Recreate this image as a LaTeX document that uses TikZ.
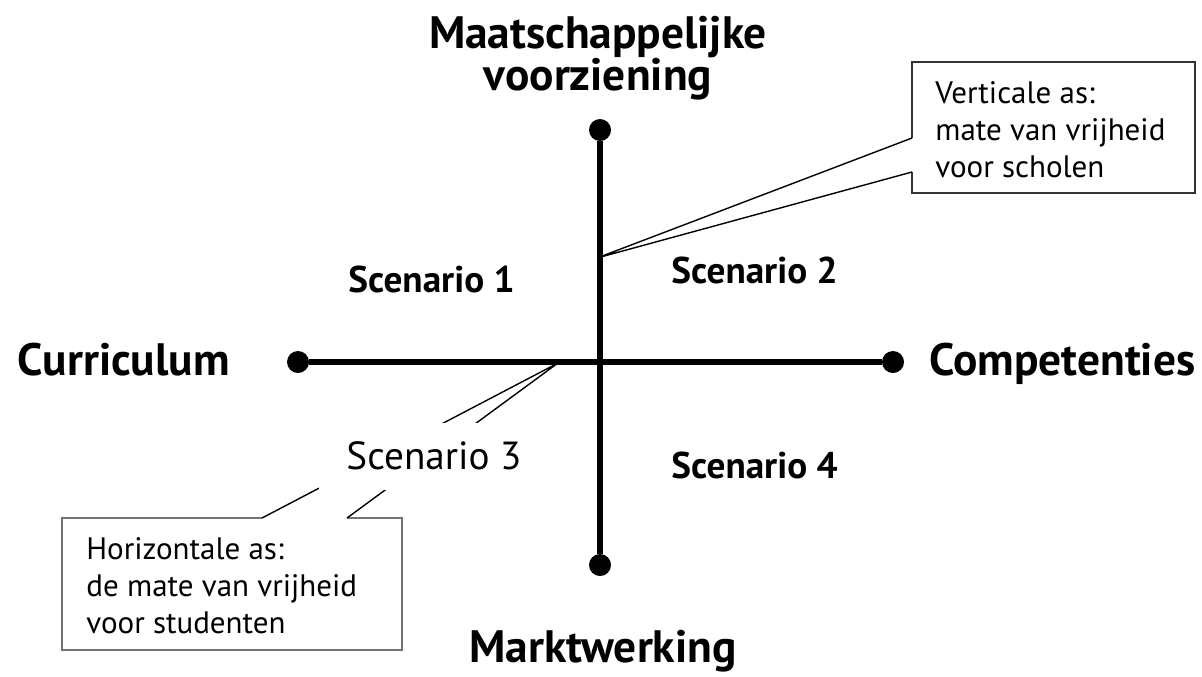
\documentclass[tikz,border=0pt]{standalone}
\usepackage{fontspec}
\setmainfont{PT Sans}

\begin{document}
\begin{tikzpicture}[x=0.5pt,y=-0.5pt,
    axis/.style={line width=3pt},
    dot/.style={circle,fill=black,inner sep=0pt,minimum size=11pt},
    pole/.style={font=\fontsize{22.7}{21}\selectfont\bfseries,inner sep=0pt},
    scen/.style={font=\fontsize{18.6}{20}\selectfont\bfseries,inner sep=0pt},
    note/.style={font=\fontsize{15.5}{18.5}\selectfont,align=left,inner sep=0pt},
    pointer/.style={line width=0.7pt},
    notebox/.style={line width=1pt,black!80}]
    \useasboundingbox (0,0) rectangle (1202,676);
    % callout rechtsboven
    \coordinate (vtip) at (597,258);
    \coordinate (v1) at (912,138);
    \coordinate (v2) at (912,172);
    \fill[white] (912,62) -- (v1) -- (vtip) -- (v2) -- (912,193) -- (1195,193) -- (1195,62) -- cycle;
    \draw[notebox] (v1) -- (912,62) -- (1195,62) -- (1195,193) -- (912,193) -- (v2);
    \draw[pointer] (v1) -- (vtip) -- (v2);
    \node[note, anchor=base west] (vnote) at (935,177) {Verticale as:\\mate van vrijheid\\voor scholen};
    % callout linksonder
    \coordinate (htip) at (558,363);
    \coordinate (h1) at (262,518);
    \coordinate (h2) at (347,518);
    \fill[white] (62,518) -- (h1) -- (htip) -- (h2) -- (402,518) -- (402,650) -- (62,650) -- cycle;
    \draw[notebox,black!55,line width=1.4pt] (h1) -- (62,518) -- (62,650) -- (402,650) -- (402,518) -- (h2);
    \draw[pointer] (h1) -- (htip) -- (h2);
    \node[note, anchor=base west] (hnote) at (86,633) {Horizontale as:\\de mate van vrijheid\\voor studenten};
    % assen
    \node[dot] (top) at (600,130) {};
    \node[dot] (bottom) at (600,565) {};
    \node[dot] (left) at (298,362) {};
    \node[dot] (right) at (893,362) {};
    \draw[axis] (top) -- (bottom);
    \draw[axis] (left) -- (right);
    \node[pole, align=center, anchor=base] (maat) at (598,90) {Maatschappelijke\\voorziening};
    \node[pole, anchor=base] (markt) at (603,662) {Marktwerking};
    \node[pole, anchor=base east] (curr) at (230,375) {Curriculum};
    \node[pole, anchor=base west] (comp) at (929,375) {Competenties};
    % scenario's
    \node[scen, anchor=base west] (s1) at (348,292) {Scenario 1};
    \node[scen, anchor=base west] (s2) at (671,283) {Scenario 2};
    \node[scen, font=\fontsize{19.6}{20}\selectfont, fill=white, minimum width=115pt, minimum height=33.5pt] (s3) at (434,456) {Scenario 3};
    \node[scen, anchor=base west] (s4) at (671,478) {Scenario 4};
\end{tikzpicture}
\end{document}
